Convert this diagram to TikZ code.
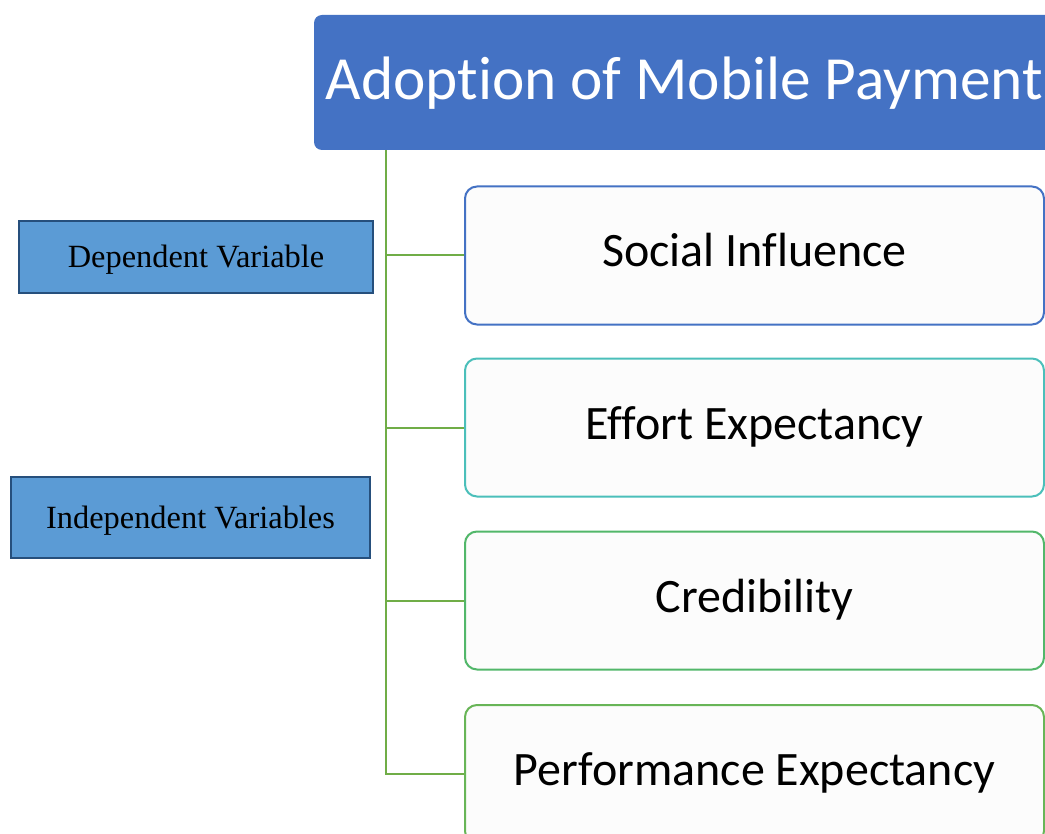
\documentclass[tikz,border=0pt]{standalone}
\usepackage{fontspec}
\setmainfont{Liberation Serif}
\newfontfamily\calib[Ligatures=NoCommon]{Carlito}
\definecolor{titleblue}{HTML}{4472C4}
\definecolor{lblfill}{HTML}{5B9BD5}
\definecolor{lbledge}{HTML}{264F7C}
\definecolor{linkgreen}{HTML}{70AD47}
\definecolor{edgeblue}{HTML}{4472C4}
\definecolor{edgeteal}{HTML}{4BBFBA}
\definecolor{edgegreen}{HTML}{52B76A}
\definecolor{edgelime}{HTML}{68B557}
\definecolor{boxfill}{HTML}{FCFCFC}
\begin{document}
\begin{tikzpicture}[x=0.75pt,y=-0.75pt,
  headbox/.style={draw=none, fill=titleblue, rounded corners=6pt,
    minimum width=555.75pt, minimum height=101.25pt, inner sep=0pt,
    text height=26.25pt, text depth=0pt,
    text=white, font=\calib\fontsize{46pt}{55pt}\selectfont},
  factor/.style={draw=#1, line width=1.5pt, fill=boxfill, rounded corners=9pt,
    minimum width=434.25pt, minimum height=103.5pt, inner sep=0pt,
    text height=17.25pt, text depth=0pt,
    font=\calib\fontsize{36pt}{42pt}\selectfont},
  label/.style={draw=lbledge, line width=1.6pt, fill=lblfill, inner sep=0pt,
    text height=16.25pt, text depth=0pt,
    font=\fontsize{24.3pt}{28pt}\selectfont},
  link/.style={draw=linkgreen, line width=1.5pt}]
\clip (0,0) rectangle (1045,834);
\fill[white] (0,0) rectangle (1045,834);

% heading
\node[headbox] (head) at (684.5,82.5) {Adoption of Mobile Payment};

% factor boxes
\node[factor=edgeblue]  (si) at (754.5,255.5) {Social Influence};
\node[factor=edgeteal]  (ee) at (754.5,427.5) {Effort Expectancy};
\node[factor=edgegreen] (cr) at (754.5,600.5) {Credibility};
\node[factor=edgelime]  (pe) at (754.5,774)   {Performance Expectancy};

% side labels
\node[label, minimum width=265.5pt, minimum height=54pt] (dv) at (196,257) {Dependent Variable};
\node[label, minimum width=269.25pt, minimum height=60.75pt] (iv) at (190.5,517.5) {Independent Variables};

% tree connectors
\coordinate (trunk) at (386,150);
\draw[link] (trunk) |- (pe.west);
\draw[link] (si.west) -- (si.west -| trunk);
\draw[link] (ee.west) -- (ee.west -| trunk);
\draw[link] (cr.west) -- (cr.west -| trunk);
\end{tikzpicture}
\end{document}
